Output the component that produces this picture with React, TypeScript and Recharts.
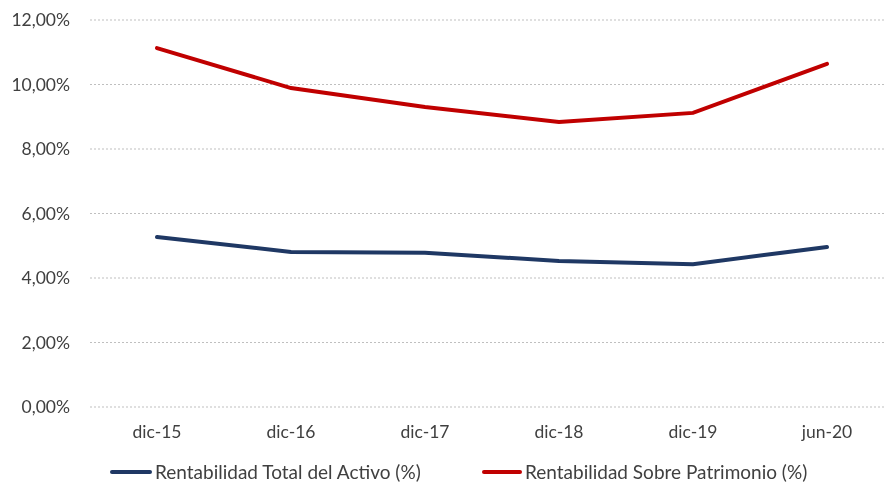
import React from 'react';
import { LineChart, Line, XAxis, YAxis, CartesianGrid } from 'recharts';

const periods = ['dic-15', 'dic-16', 'dic-17', 'dic-18', 'dic-19', 'jun-20'];
const activo = [5.27, 4.81, 4.78, 4.53, 4.43, 4.96];
const patrimonio = [11.13, 9.89, 9.3, 8.84, 9.12, 10.64];
const yTicks = [0, 2, 4, 6, 8, 10, 12];

const BLUE = '#1F3864';
const RED = '#C00000';
const TEXT = '#404040';
const FONT = 'Lato, "Open Sans", sans-serif';

const data = periods.map((p, i) => ({ pos: i + 0.5, period: p, activo: activo[i], patrimonio: patrimonio[i] }));
const boundaryTicks = periods.map((_, i) => i).concat(periods.length);
const labelTicks = periods.map((_, i) => i + 0.5);

const fmtPct = (v: number) => v.toFixed(2).replace('.', ',') + '%';

const legendItem = { position: 'absolute' as const, top: 463, display: 'flex', alignItems: 'center', color: TEXT, fontSize: 19, lineHeight: '17px', whiteSpace: 'nowrap' as const };

export default function App() {
  return (
    <div style={{ position: 'fixed', left: 0, top: 0, width: 885, height: 484, overflow: 'hidden', fontFamily: FONT }}>
      <LineChart width={900} height={484} data={data} margin={{ top: 20, right: 6, bottom: 0, left: 0 }}>
        <CartesianGrid vertical={false} stroke="#BFBFBF" strokeDasharray="2 2" />
        <XAxis
          xAxisId="marks"
          type="number"
          dataKey="pos"
          domain={[0, periods.length]}
          ticks={boundaryTicks}
          tick={false}
          tickSize={5}
          height={0}
          stroke="#898989"
          interval={0}
        />
        <XAxis
          xAxisId="labels"
          type="number"
          dataKey="pos"
          domain={[0, periods.length]}
          ticks={labelTicks}
          tickFormatter={(v: number) => periods[Math.floor(v)]}
          axisLine={false}
          tickLine={false}
          tickSize={0}
          tickMargin={19}
          height={77}
          interval={0}
          tick={{ fill: TEXT, fontSize: 17.5, fontFamily: FONT }}
        />
        <YAxis
          domain={[0, 12]}
          ticks={yTicks}
          tickFormatter={fmtPct}
          axisLine={false}
          tickLine={false}
          tickSize={0}
          tickMargin={20}
          width={90}
          tick={{ fill: TEXT, fontSize: 17.5, fontFamily: FONT }}
        />
        <Line xAxisId="marks" dataKey="activo" stroke={BLUE} strokeWidth={4} dot={false} isAnimationActive={false} strokeLinecap="round" />
        <Line xAxisId="marks" dataKey="patrimonio" stroke={RED} strokeWidth={4} dot={false} isAnimationActive={false} strokeLinecap="round" />
      </LineChart>
      <div style={{ ...legendItem, left: 110 }}>
        <span style={{ display: 'inline-block', width: 42, height: 4, borderRadius: 2, background: BLUE, marginRight: 3 }} />
        <span>Rentabilidad Total del Activo (%)</span>
      </div>
      <div style={{ ...legendItem, left: 482 }}>
        <span style={{ display: 'inline-block', width: 40, height: 4, borderRadius: 2, background: RED, marginRight: 3 }} />
        <span>Rentabilidad Sobre Patrimonio (%)</span>
      </div>
    </div>
  );
}
